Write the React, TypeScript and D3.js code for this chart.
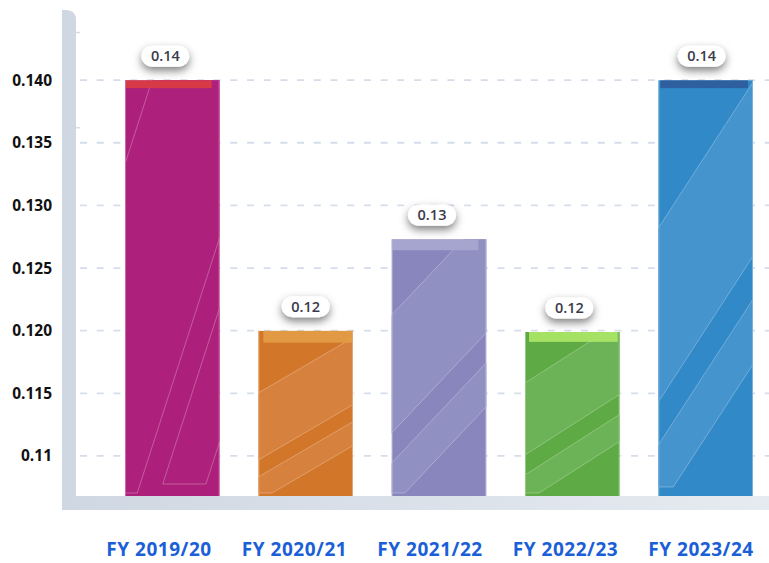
import React from 'react';
import * as d3 from 'd3';

// ---- data ----
const categories = ['FY 2019/20', 'FY 2020/21', 'FY 2021/22', 'FY 2022/23', 'FY 2023/24'];
const values = [0.14, 0.12, 0.1273, 0.1199, 0.14];
const tickValues = [0.14, 0.135, 0.13, 0.125, 0.12, 0.115, 0.11];
const tickLabels = ['0.140', '0.135', '0.130', '0.125', '0.120', '0.115', '0.11'];
const minorTicks = [0.1438, 0.1362];

// ---- styles ----
const barColors = ['#AC1F7A', '#D2772A', '#8886BC', '#5EAA44', '#3189C8'];
const bandColors = ['#AD217C', '#D7813F', '#9190C2', '#6BB356', '#4694CE'];
const capColors = ['#D93B45', '#E39B45', '#A8A7D0', '#A9E566', '#2E5E9E'];
// [left inset, right inset, height]
const capStyles = [[0, 8, 8], [5, 0, 12], [0, 8, 11], [4, 2, 10], [2, 5, 8]];
// decorative stripes: slope, bands [upper intercept, lower intercept, bottom cut]
const stripeStyles = [
  { slope: 3.1, bands: [[332, -35, 3], [-105, -239, 12]] },
  { slope: 0.585, bands: [[103, 36, 3], [19, -5, 3]] },
  { slope: 1.06, bands: [[181, 63, 3], [33, -11, 3]] },
  { slope: 0.64, bands: [[113, 41, 3], [21, -6, 3]] },
  { slope: 1.54, bands: [[268, 94, 9], [51, -14, 9]] },
];
const pillOffsets = [-7, 0, -7, -3, -4];

const W = 769;
const H = 563;
const FONT = "'Open Sans', 'DejaVu Sans', sans-serif";

export default function App() {
  const x = d3.scaleBand<string>().domain(categories).range([125, 753]).paddingInner(0.29).paddingOuter(0);
  const xl = d3.scalePoint<string>().domain(categories).range([159, 701]);
  const y = d3.scaleLinear().domain([0.1068, 0.1456]).range([496, 10]);
  const base = y.range()[0];
  const top = y.range()[1];
  const frameL = 62, frameR = 76, frameB = 510;
  const fmt = d3.format('.2f');
  const bw = x.bandwidth();

  const framePath = `M${frameL},${frameB} V${top} H${frameR - 10} Q${frameR},${top} ${frameR},${top + 10} V${base} H${W} V${frameB} Z`;

  return (
    <svg width={W} height={H} style={{ position: 'absolute', left: 0, top: 0, background: '#fff' }}>
      <defs>
        <linearGradient id="frameGrad" x1="0" x2="1" y1="0" y2="0">
          <stop offset="0%" stopColor="#CFD7E2" />
          <stop offset="100%" stopColor="#E6EBF1" />
        </linearGradient>
        <filter id="pillShadow" x="-50%" y="-80%" width="200%" height="280%">
          <feDropShadow dx="0" dy="4" stdDeviation="4.5" floodColor="#000" floodOpacity="0.5" />
        </filter>
        {categories.map((c, i) => {
          const x0 = x(c)!;
          const yT = y(values[i]);
          return (
            <clipPath id={`clip${i}`} key={c}>
              <rect x={x0} y={yT} width={bw} height={base - yT} />
            </clipPath>
          );
        })}
      </defs>

      {/* gridlines */}
      {tickValues.map((t) => (
        <line key={t} x1={80} x2={W} y1={y(t)} y2={y(t)} stroke="#D5DDEB" strokeWidth={1.8} strokeDasharray="7 9.7" />
      ))}

      {/* frame */}
      <path d={framePath} fill="url(#frameGrad)" />
      {minorTicks.map((t) => (
        <line key={t} x1={frameR} x2={frameR + 4} y1={y(t)} y2={y(t)} stroke="#D5DDEB" strokeWidth={1.5} />
      ))}

      {/* y labels */}
      {tickValues.map((t, i) => (
        <text key={t} x={52} y={y(t)} dy="0.36em" textAnchor="end" fontFamily={FONT} fontWeight={700} fontSize={15.5} fill="#111">
          {tickLabels[i]}
        </text>
      ))}

      {/* bars */}
      {categories.map((c, i) => {
        const x0 = x(c)!;
        const yT = y(values[i]);
        const h = base - yT;
        const st = stripeStyles[i];
        const s = st.slope;
        const U = bw + 400;
        const pt = (u: number, v: number) => `${x0 + u},${base - v}`;
        const cap = capStyles[i];
        const edge = d3.interpolateRgb(barColors[i], '#ffffff')(0.35);
        return (
          <g key={c}>
            <g clipPath={`url(#clip${i})`}>
              <rect x={x0} y={yT} width={bw} height={h} fill={barColors[i]} />
              {st.bands.map(([a, b, cut], k) => {
                const uHigh = (cut - a) / s;
                const uLow = (cut - b) / s;
                const pts = [pt(uHigh, cut), pt(U, a + s * U), pt(U, b + s * U), pt(uLow, cut)].join(' ');
                return (
                  <polygon key={k} points={pts} fill={bandColors[i]} stroke="rgba(255,255,255,0.35)" strokeWidth={0.8} />
                );
              })}
              <rect x={x0 + cap[0]} y={yT} width={bw - cap[0] - cap[1]} height={cap[2]} fill={capColors[i]} opacity={0.95} />
            </g>
            <line x1={x0 + 0.5} x2={x0 + 0.5} y1={yT} y2={base} stroke={edge} strokeWidth={1} />
            <line x1={x0 + bw - 0.5} x2={x0 + bw - 0.5} y1={yT} y2={base} stroke={edge} strokeWidth={1} />
          </g>
        );
      })}

      {/* value pills */}
      {categories.map((c, i) => {
        const cx = x(c)! + bw / 2 + pillOffsets[i];
        const cy = y(values[i]) - 24;
        return (
          <g key={c} transform={`translate(${cx},${cy})`}>
            <rect x={-24} y={-10.5} width={48} height={21} rx={10.5} fill="#fff" filter="url(#pillShadow)" />
            <text x={0} y={0} dy="0.36em" textAnchor="middle" fontFamily={FONT} fontWeight={600} fontSize={14.5} fill="#3B3B4B">
              {fmt(values[i])}
            </text>
          </g>
        );
      })}

      {/* x labels */}
      {categories.map((c) => (
        <text key={c} x={xl(c)!} y={549} dy="0.36em" textAnchor="middle" fontFamily={FONT} fontWeight={700} fontSize={19} letterSpacing={0.5} fill="#1B5FD8">
          {c}
        </text>
      ))}
    </svg>
  );
}
